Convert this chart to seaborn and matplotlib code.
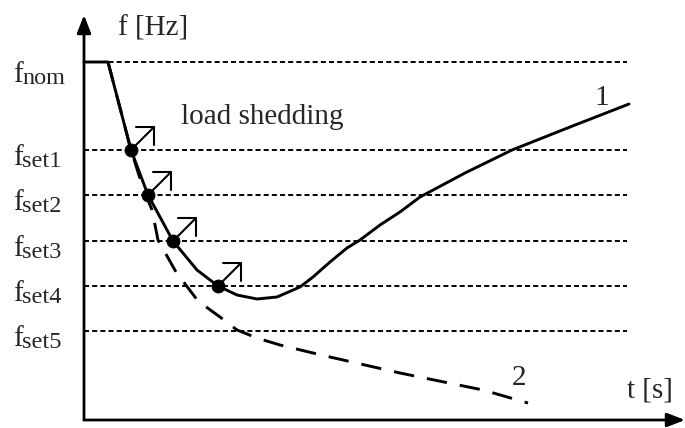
import matplotlib
matplotlib.use('Agg')
import matplotlib.pyplot as plt
import seaborn as sns

# frequency levels (arbitrary units)
level_names = ['nom', 'set1', 'set2', 'set3', 'set4', 'set5']
level_values = [358, 270, 225, 179, 134, 89]

# curve 1: frequency with load shedding
t1 = [0, 24, 47, 64, 76, 89, 113, 134, 153, 173, 193, 216, 229, 246, 263, 276, 296, 316, 336, 381, 428, 486, 545]
f1 = [358, 358, 270, 225, 203, 179, 150, 134, 125, 121, 123, 133, 143, 158, 172, 180, 195, 208, 223, 247, 270, 293, 316]

# curve 2: frequency without load shedding
t2 = [24, 47, 59, 68, 74, 92, 114, 136, 153, 173, 196, 229, 246, 316, 399, 444]
f2 = [358, 270, 232, 210, 180, 148, 119, 103, 90, 82, 75, 67, 63, 47, 30, 17]

# load shedding points
shed_t = [47, 64, 89, 134]
shed_f = [270, 225, 179, 134]

sns.set_theme(style='white')
plt.rcParams['font.family'] = ['Liberation Serif', 'DejaVu Serif']

fig = plt.figure(figsize=(6.85, 4.28), dpi=100)
ax = fig.add_axes([0, 0, 1, 1])
ax.set_xlim(-84, 601)
ax.set_ylim(-8, 420)
ax.axis('off')

# dotted level lines
ax.hlines(level_values, 0, 543, colors='black', linewidth=1.4, linestyles=(0, (2.6, 1.6)))

# curves
sns.lineplot(x=t2, y=f2, sort=False, ax=ax, color='black', linewidth=2.1,
             linestyle=(0, (7, 4.5)))
sns.lineplot(x=t1, y=f1, sort=False, ax=ax, color='black', linewidth=2.1)
sns.scatterplot(x=shed_t, y=shed_f, ax=ax, color='black', s=85, edgecolor='black', zorder=5)

# shedding arrows
for x, y in zip(shed_t, shed_f):
    ax.annotate('', xy=(x + 24, y + 24), xytext=(x, y),
                arrowprops=dict(arrowstyle='->,head_length=0.78,head_width=0.78', color='black',
                                lw=1.5, shrinkA=0, shrinkB=0))

# coordinate axes
ax.annotate('', xy=(601, 0), xytext=(0, 0),
            arrowprops=dict(arrowstyle='-|>,head_length=0.9,head_width=0.35', color='black',
                            lw=2.0, shrinkA=0, shrinkB=0))
ax.annotate('', xy=(0, 405), xytext=(0, 0),
            arrowprops=dict(arrowstyle='-|>,head_length=0.9,head_width=0.35', color='black',
                            lw=2.0, shrinkA=0, shrinkB=0))

fs = 21
# level labels: "f" with a subscript
for name, v in zip(level_names, level_values):
    yb = 338 if name == 'nom' else v - 15
    ax.text(-71, yb, 'f', fontsize=fs, ha='left', va='baseline')
    ax.text(-62, yb - 2, name, fontsize=17.5, ha='left', va='baseline')

ax.text(34, 385, 'f [Hz]', fontsize=fs, ha='left', va='baseline')
ax.text(543, 23, 't [s]', fontsize=fs, ha='left', va='baseline')
ax.text(97, 296, 'load shedding', fontsize=fs, ha='left', va='baseline')
ax.text(510, 315, '1', fontsize=fs, ha='left', va='baseline')
ax.text(428, 35, '2', fontsize=fs, ha='left', va='baseline')

fig.savefig('out.png', dpi=100)
